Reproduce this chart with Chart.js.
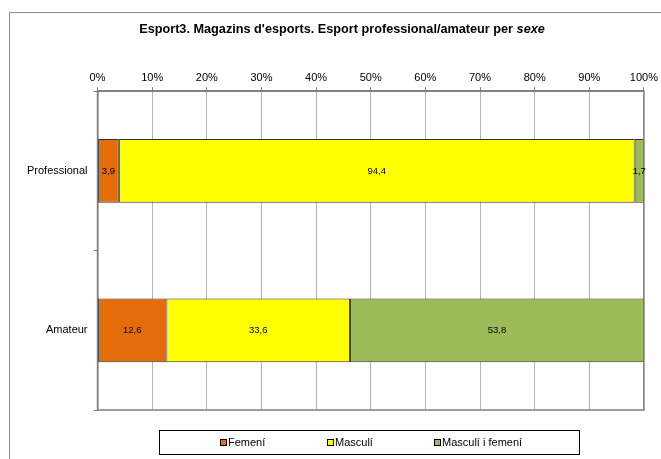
<!DOCTYPE html>
<html>
<head>
<meta charset="utf-8">
<script src="https://cdn.jsdelivr.net/npm/chart.js@4"></script>
<style>
    html, body { margin: 0; padding: 0; background: #fff; }
    #wrap { width: 661px; height: 459px; position: relative; }
</style>
</head>
<body>
<div id="wrap"><canvas id="chart" width="661" height="459"></canvas></div>
<script>
const categories = ['Professional', 'Amateur'];
const seriesNames = ['Femení', 'Masculí', 'Masculí i femení'];
const femeni = [3.9, 12.6];
const masculi = [94.4, 33.6];
const masculiFemeni = [1.7, 53.8];
const tickValues = [0, 10, 20, 30, 40, 50, 60, 70, 80, 90, 100];
const titleMain = "Esport3. Magazins d'esports. Esport professional/amateur per ";
const titleItalic = 'sexe';

const colors = ['#E46C0A', '#FFFF00', '#9BBB59'];
const FONT = '"Liberation Sans", Arial, sans-serif';

// outer frame of the chart object (right/bottom edges fall outside the picture)
const framePlugin = {
    id: 'frame',
    beforeDraw(chart) {
        const ctx = chart.ctx;
        ctx.save();
        ctx.strokeStyle = '#8c8c8c';
        ctx.lineWidth = 1;
        ctx.strokeRect(9.5, 12.5, 700, 500);
        ctx.restore();
    }
};

// title with the last word in italics
const titlePlugin = {
    id: 'mixedTitle',
    afterDraw(chart) {
        const ctx = chart.ctx;
        ctx.save();
        ctx.fillStyle = '#000';
        ctx.textBaseline = 'middle';
        ctx.font = 'bold 12.7px ' + FONT;
        const w1 = ctx.measureText(titleMain).width;
        ctx.font = 'italic bold 12.7px ' + FONT;
        const w2 = ctx.measureText(titleItalic).width;
        let x = 342 - (w1 + w2) / 2;
        ctx.font = 'bold 12.7px ' + FONT;
        ctx.fillText(titleMain, x, 29);
        ctx.font = 'italic bold 12.7px ' + FONT;
        ctx.fillText(titleItalic, x + w1, 29);
        ctx.restore();
    }
};

// dark frame round the plot area
const plotBorderPlugin = {
    id: 'plotBorder',
    afterDatasetsDraw(chart) {
        const a = chart.chartArea;
        const ctx = chart.ctx;
        ctx.save();
        ctx.strokeStyle = '#7f7f7f';
        ctx.lineWidth = 1.5;
        ctx.strokeRect(a.left, a.top, a.right - a.left, a.bottom - a.top);
        ctx.restore();
    }
};

// value labels in the middle of each segment
const valueLabelPlugin = {
    id: 'valueLabels',
    afterDatasetsDraw(chart) {
        const ctx = chart.ctx;
        ctx.save();
        ctx.font = '9.5px ' + FONT;
        ctx.fillStyle = '#000';
        ctx.textAlign = 'center';
        ctx.textBaseline = 'middle';
        chart.data.datasets.forEach((ds, i) => {
            chart.getDatasetMeta(i).data.forEach((bar, j) => {
                const p = bar.getProps(['x', 'y', 'base'], true);
                const cx = (p.x + p.base) / 2;
                ctx.fillText(ds.data[j].toFixed(1).replace('.', ','), cx, p.y);
            });
        });
        ctx.restore();
    }
};

// boxed legend under the plot, equal column widths
const boxLegendPlugin = {
    id: 'boxLegend',
    afterDraw(chart) {
        const a = chart.chartArea;
        const ctx = chart.ctx;
        const left = Math.round(a.left) + 61.5, top = 430.5, width = 420, height = 24;
        ctx.save();
        ctx.strokeStyle = '#000';
        ctx.lineWidth = 1;
        ctx.strokeRect(left, top, width, height);
        ctx.font = '11px ' + FONT;
        ctx.textBaseline = 'middle';
        ctx.fillStyle = '#000';
        chart.data.datasets.forEach((ds, i) => {
            const x = Math.round(left + 60 + i * 107);
            const y = Math.round(top + height / 2);
            ctx.fillStyle = ds.backgroundColor;
            ctx.fillRect(x, y - 4, 7, 7);
            ctx.strokeStyle = '#000';
            ctx.strokeRect(x + 0.5, y - 3.5, 6, 6);
            ctx.fillStyle = '#000';
            ctx.fillText(ds.label, x + 8, y);
        });
        ctx.restore();
    }
};

new Chart(document.getElementById('chart'), {
    type: 'bar',
    data: {
        labels: categories,
        datasets: [
            { label: seriesNames[0], data: femeni, backgroundColor: colors[0] },
            { label: seriesNames[1], data: masculi, backgroundColor: colors[1] },
            { label: seriesNames[2], data: masculiFemeni, backgroundColor: colors[2] }
        ].map(d => Object.assign(d, {
            borderColor: '#333333',
            borderWidth: 1,
            borderSkipped: false,
            barPercentage: 0.4,
            categoryPercentage: 1.0
        }))
    },
    options: {
        indexAxis: 'y',
        responsive: false,
        animation: false,
        devicePixelRatio: 1,
        layout: { padding: { top: 68, left: 21, right: 13, bottom: 49 } },
        plugins: {
            legend: { display: false },
            title: { display: false },
            tooltip: { enabled: false }
        },
        scales: {
            x: {
                position: 'top',
                stacked: true,
                min: 0,
                max: 100,
                afterBuildTicks: scale => { scale.ticks = tickValues.map(v => ({ value: v })); },
                ticks: {
                    color: '#000',
                    font: { family: FONT, size: 11 },
                    padding: 3,
                    callback: v => v + '%'
                },
                grid: { color: '#b4b4b4', tickColor: '#7f7f7f', tickLength: 4, lineWidth: 1 },
                border: { color: '#7f7f7f', width: 1.5 }
            },
            y: {
                stacked: true,
                ticks: {
                    color: '#000',
                    font: { family: FONT, size: 11 },
                    padding: 6
                },
                grid: { drawOnChartArea: false, offset: true, tickColor: '#7f7f7f', tickLength: 4 },
                border: { color: '#7f7f7f', width: 1.5 }
            }
        }
    },
    plugins: [framePlugin, titlePlugin, plotBorderPlugin, valueLabelPlugin, boxLegendPlugin]
});
</script>
</body>
</html>
